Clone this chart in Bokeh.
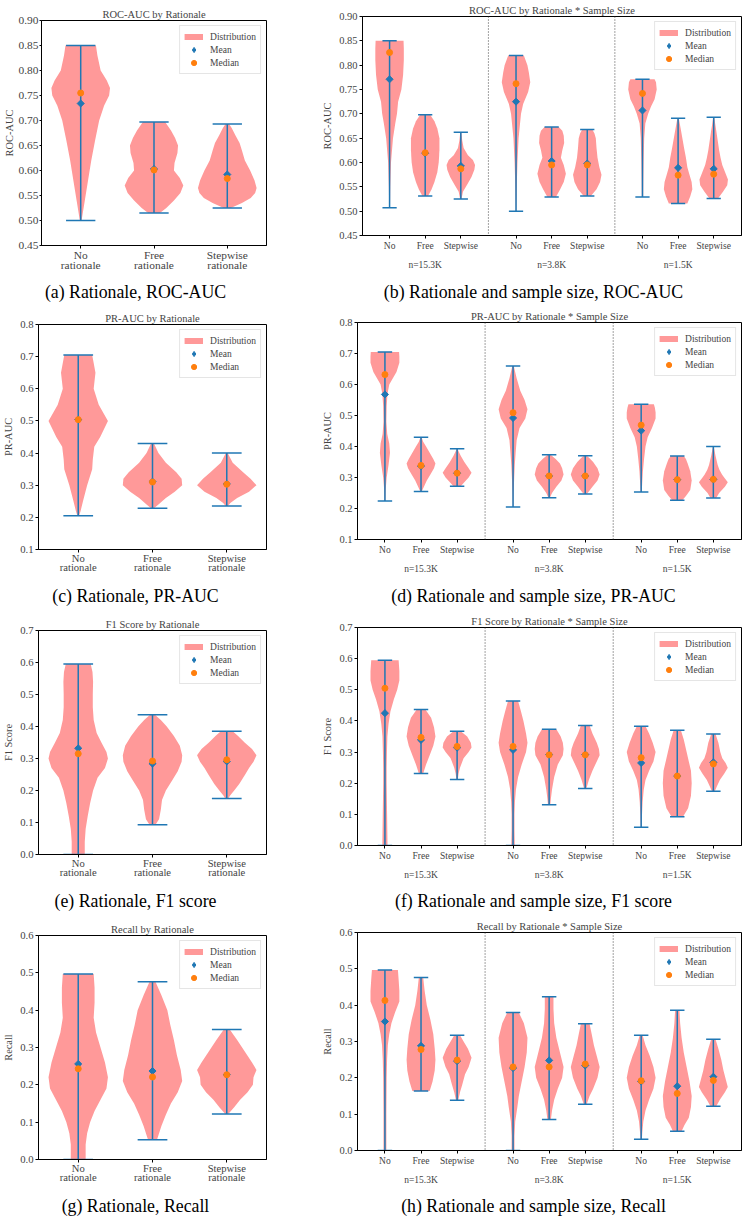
import numpy as np
from bokeh.plotting import figure
from bokeh.layouts import column, row
from bokeh.models import (FixedTicker, PrintfTickFormatter, Range1d, Legend, LegendItem,
                          Span, LinearAxis, Div)
from bokeh.embed import file_html
from bokeh.resources import INLINE

# ---------------------------------------------------------------- data
LEFT_CATS = ["No\nrationale", "Free\nrationale", "Stepwise\nrationale"]
RIGHT_CATS = ["No", "Free", "Stepwise"]
SAMPLE_SIZES = ["n=15.3K", "n=3.8K", "n=1.5K"]

# Violin profiles: (metric value, relative half-width); first/last value = min/max.
# ROC-AUC by rationale
ROC_SHAPES = [
    [(0.500, 0.03), (0.54, 0.14), (0.58, 0.25), (0.62, 0.36), (0.66, 0.49), (0.70, 0.63),
     (0.73, 0.8), (0.75, 0.97), (0.765, 1.0), (0.78, 0.89), (0.80, 0.68), (0.83, 0.57), (0.85, 0.52)],
    [(0.515, 0.2), (0.525, 0.42), (0.54, 0.68), (0.555, 0.9), (0.57, 1.0), (0.585, 0.88),
     (0.60, 0.68), (0.615, 0.7), (0.635, 0.8), (0.65, 0.82), (0.665, 0.72), (0.68, 0.58), (0.697, 0.38)],
    [(0.525, 0.12), (0.535, 0.5), (0.545, 0.8), (0.555, 0.95), (0.565, 1.0), (0.58, 0.93),
     (0.60, 0.78), (0.62, 0.6), (0.64, 0.5), (0.655, 0.42), (0.67, 0.28), (0.685, 0.15), (0.693, 0.06)],
]
ROC_MEANS = [0.734, 0.603, 0.592]
ROC_MEDIANS = [0.755, 0.601, 0.584]

# ROC-AUC by rationale x sample size
ROC_N_SHAPES = [
    [(0.507, 0.03), (0.55, 0.05), (0.60, 0.1), (0.65, 0.24), (0.68, 0.4), (0.70, 0.52),
     (0.725, 0.6), (0.75, 0.83), (0.78, 0.95), (0.81, 1.0), (0.835, 1.0), (0.85, 0.98)],
    [(0.531, 0.2), (0.545, 0.45), (0.56, 0.65), (0.58, 0.85), (0.60, 0.95), (0.625, 1.0),
     (0.65, 1.0), (0.67, 0.85), (0.685, 0.65), (0.698, 0.35)],
    [(0.525, 0.05), (0.54, 0.15), (0.555, 0.45), (0.57, 0.75), (0.585, 0.95), (0.595, 1.0),
     (0.605, 0.85), (0.615, 0.5), (0.63, 0.2), (0.645, 0.1), (0.662, 0.04)],
    [(0.500, 0.02), (0.55, 0.05), (0.60, 0.1), (0.65, 0.18), (0.70, 0.35), (0.72, 0.5),
     (0.745, 0.85), (0.765, 1.0), (0.785, 0.9), (0.80, 0.8), (0.82, 0.55)],
    [(0.529, 0.3), (0.545, 0.6), (0.56, 0.85), (0.577, 1.0), (0.595, 0.85), (0.61, 0.65),
     (0.625, 0.75), (0.64, 0.88), (0.655, 0.85), (0.665, 0.75), (0.673, 0.5)],
    [(0.531, 0.25), (0.545, 0.65), (0.56, 0.9), (0.575, 1.0), (0.59, 0.85), (0.61, 0.72),
     (0.63, 0.65), (0.65, 0.6), (0.66, 0.5), (0.668, 0.35)],
    [(0.529, 0.05), (0.56, 0.06), (0.60, 0.08), (0.65, 0.12), (0.68, 0.2), (0.70, 0.4),
     (0.715, 0.6), (0.73, 0.85), (0.75, 1.0), (0.765, 0.95), (0.771, 0.85)],
    [(0.516, 0.65), (0.53, 0.85), (0.545, 1.0), (0.56, 0.95), (0.575, 0.8), (0.59, 0.65),
     (0.61, 0.55), (0.63, 0.42), (0.65, 0.3), (0.67, 0.18), (0.691, 0.05)],
    [(0.526, 0.3), (0.54, 0.65), (0.553, 0.95), (0.565, 1.0), (0.58, 0.8), (0.595, 0.6),
     (0.61, 0.48), (0.625, 0.38), (0.645, 0.28), (0.665, 0.18), (0.68, 0.1), (0.693, 0.04)],
]
ROC_N_MEANS = [0.771, 0.619, 0.593, 0.725, 0.603, 0.598, 0.707, 0.589, 0.587]
ROC_N_MEDIANS = [0.826, 0.620, 0.587, 0.762, 0.595, 0.595, 0.742, 0.574, 0.576]

# PR-AUC by rationale
PR_SHAPES = [
    [(0.205, 0.03), (0.22, 0.08), (0.25, 0.16), (0.30, 0.3), (0.35, 0.47), (0.38, 0.49),
     (0.42, 0.54), (0.45, 0.74), (0.50, 1.0), (0.55, 0.69), (0.60, 0.52), (0.65, 0.58),
     (0.68, 0.52), (0.705, 0.47)],
    [(0.228, 0.05), (0.24, 0.2), (0.26, 0.45), (0.28, 0.75), (0.30, 1.0), (0.32, 0.98),
     (0.34, 0.8), (0.37, 0.45), (0.40, 0.2), (0.43, 0.05)],
    [(0.235, 0.04), (0.245, 0.12), (0.26, 0.35), (0.28, 0.75), (0.30, 1.0), (0.32, 0.8),
     (0.34, 0.55), (0.37, 0.2), (0.40, 0.03)],
]
PR_MEANS = [0.504, 0.311, 0.304]
PR_MEDIANS = [0.504, 0.310, 0.303]

# PR-AUC by rationale x sample size
PR_N_SHAPES = [
    [(0.224, 0.03), (0.26, 0.05), (0.30, 0.12), (0.34, 0.25), (0.38, 0.35), (0.41, 0.3),
     (0.44, 0.16), (0.48, 0.1), (0.53, 0.12), (0.57, 0.18), (0.60, 0.3), (0.62, 0.55),
     (0.64, 0.8), (0.67, 1.0), (0.69, 1.0), (0.705, 0.98)],
    [(0.255, 0.05), (0.27, 0.2), (0.29, 0.4), (0.31, 0.65), (0.33, 0.9), (0.345, 1.0),
     (0.36, 0.85), (0.38, 0.6), (0.40, 0.35), (0.415, 0.15), (0.43, 0.04)],
    [(0.272, 0.25), (0.285, 0.5), (0.30, 0.8), (0.315, 1.0), (0.33, 0.8), (0.35, 0.5),
     (0.37, 0.25), (0.385, 0.1), (0.393, 0.03)],
    [(0.205, 0.02), (0.25, 0.04), (0.30, 0.08), (0.34, 0.12), (0.38, 0.18), (0.42, 0.25),
     (0.46, 0.45), (0.49, 0.85), (0.52, 1.0), (0.55, 0.8), (0.58, 0.5), (0.62, 0.25), (0.66, 0.05)],
    [(0.235, 0.05), (0.25, 0.2), (0.27, 0.5), (0.29, 0.85), (0.31, 1.0), (0.33, 0.9),
     (0.345, 0.75), (0.36, 0.45), (0.373, 0.1)],
    [(0.247, 0.1), (0.255, 0.25), (0.27, 0.5), (0.29, 0.85), (0.31, 1.0), (0.33, 0.85),
     (0.35, 0.55), (0.362, 0.3), (0.370, 0.1)],
    [(0.253, 0.04), (0.28, 0.07), (0.32, 0.12), (0.36, 0.2), (0.40, 0.3), (0.43, 0.45),
     (0.46, 0.75), (0.49, 1.0), (0.51, 1.0), (0.525, 0.95), (0.536, 0.88)],
    [(0.227, 0.35), (0.24, 0.6), (0.26, 0.9), (0.29, 1.0), (0.32, 0.9), (0.345, 0.72),
     (0.36, 0.6), (0.369, 0.45)],
    [(0.234, 0.2), (0.25, 0.4), (0.27, 0.8), (0.285, 1.0), (0.30, 0.75), (0.31, 0.6),
     (0.325, 0.42), (0.34, 0.3), (0.37, 0.15), (0.40, 0.03)],
]
PR_N_MEANS = [0.568, 0.337, 0.314, 0.492, 0.305, 0.305, 0.451, 0.293, 0.294]
PR_N_MEDIANS = [0.632, 0.339, 0.314, 0.509, 0.305, 0.305, 0.469, 0.293, 0.294]

# F1 score by rationale
F1_SHAPES = [
    [(0.0, 0.22), (0.04, 0.22), (0.08, 0.25), (0.12, 0.32), (0.16, 0.4), (0.20, 0.5),
     (0.24, 0.65), (0.27, 0.9), (0.30, 1.0), (0.32, 0.95), (0.35, 0.78), (0.38, 0.62),
     (0.42, 0.52), (0.46, 0.49), (0.50, 0.49), (0.54, 0.5), (0.57, 0.48), (0.595, 0.42)],
    [(0.093, 0.1), (0.11, 0.22), (0.14, 0.28), (0.17, 0.32), (0.20, 0.45), (0.23, 0.65),
     (0.26, 0.85), (0.29, 0.98), (0.31, 1.0), (0.34, 0.92), (0.37, 0.72), (0.40, 0.48),
     (0.42, 0.28), (0.437, 0.08)],
    [(0.175, 0.05), (0.185, 0.12), (0.20, 0.25), (0.22, 0.42), (0.25, 0.62), (0.27, 0.75),
     (0.29, 0.9), (0.31, 1.0), (0.33, 0.85), (0.35, 0.6), (0.37, 0.38), (0.385, 0.2)],
]
F1_MEANS = [0.332, 0.284, 0.291]
F1_MEDIANS = [0.315, 0.292, 0.296]

# F1 score by rationale x sample size
F1_N_SHAPES = [
    [(0.0, 0.18), (0.1, 0.15), (0.2, 0.12), (0.25, 0.12), (0.30, 0.14), (0.35, 0.17),
     (0.39, 0.25), (0.43, 0.38), (0.47, 0.62), (0.50, 0.85), (0.53, 1.0), (0.56, 1.0), (0.595, 0.95)],
    [(0.231, 0.15), (0.26, 0.35), (0.29, 0.6), (0.32, 0.85), (0.35, 1.0), (0.38, 0.9),
     (0.41, 0.7), (0.437, 0.3)],
    [(0.212, 0.05), (0.23, 0.1), (0.25, 0.2), (0.28, 0.45), (0.30, 0.8), (0.315, 1.0),
     (0.33, 0.95), (0.35, 0.7), (0.367, 0.25)],
    [(0.0, 0.12), (0.05, 0.1), (0.10, 0.1), (0.14, 0.13), (0.18, 0.2), (0.22, 0.35),
     (0.26, 0.6), (0.30, 0.9), (0.33, 1.0), (0.36, 0.9), (0.40, 0.72), (0.43, 0.55), (0.464, 0.35)],
    [(0.131, 0.08), (0.15, 0.12), (0.18, 0.2), (0.22, 0.35), (0.26, 0.6), (0.29, 0.95),
     (0.31, 1.0), (0.33, 0.95), (0.35, 0.8), (0.373, 0.5)],
    [(0.183, 0.08), (0.21, 0.25), (0.24, 0.5), (0.27, 0.8), (0.29, 1.0), (0.31, 0.95),
     (0.33, 0.8), (0.36, 0.5), (0.385, 0.3)],
    [(0.059, 0.03), (0.10, 0.06), (0.14, 0.1), (0.18, 0.18), (0.21, 0.3), (0.24, 0.55),
     (0.27, 0.85), (0.30, 1.0), (0.33, 0.8), (0.36, 0.55), (0.383, 0.3)],
    [(0.092, 0.4), (0.10, 0.5), (0.12, 0.75), (0.16, 0.95), (0.20, 1.0), (0.24, 0.95),
     (0.27, 0.8), (0.30, 0.65), (0.34, 0.45), (0.370, 0.25)],
    [(0.174, 0.1), (0.19, 0.25), (0.21, 0.45), (0.23, 0.75), (0.25, 1.0), (0.265, 0.85),
     (0.28, 0.62), (0.30, 0.48), (0.33, 0.35), (0.358, 0.15)],
]
F1_N_MEANS = [0.425, 0.339, 0.314, 0.307, 0.292, 0.292, 0.265, 0.223, 0.267]
F1_N_MEDIANS = [0.505, 0.347, 0.318, 0.318, 0.291, 0.291, 0.282, 0.223, 0.262]

# Recall by rationale
REC_SHAPES = [
    [(0.0, 0.25), (0.04, 0.25), (0.07, 0.3), (0.10, 0.4), (0.13, 0.55), (0.16, 0.75),
     (0.19, 0.95), (0.22, 1.0), (0.26, 0.9), (0.30, 0.75), (0.34, 0.6), (0.38, 0.52),
     (0.42, 0.55), (0.46, 0.55), (0.497, 0.52)],
    [(0.053, 0.15), (0.065, 0.2), (0.09, 0.3), (0.12, 0.45), (0.15, 0.62), (0.18, 0.85),
     (0.21, 1.0), (0.24, 0.95), (0.28, 0.82), (0.32, 0.72), (0.36, 0.6), (0.40, 0.5),
     (0.44, 0.3), (0.476, 0.1)],
    [(0.122, 0.05), (0.14, 0.25), (0.16, 0.45), (0.18, 0.7), (0.20, 0.88), (0.22, 0.9),
     (0.24, 1.0), (0.26, 0.85), (0.29, 0.6), (0.32, 0.35), (0.348, 0.1)],
]
REC_MEANS = [0.256, 0.237, 0.227]
REC_MEDIANS = [0.243, 0.221, 0.227]

# Recall by rationale x sample size
REC_N_SHAPES = [
    [(0.0, 0.1), (0.10, 0.1), (0.20, 0.12), (0.25, 0.15), (0.29, 0.2), (0.32, 0.3),
     (0.35, 0.45), (0.38, 0.7), (0.41, 1.0), (0.44, 1.0), (0.47, 0.95), (0.497, 0.9)],
    [(0.164, 0.6), (0.19, 0.8), (0.22, 0.95), (0.25, 1.0), (0.28, 0.95), (0.32, 0.85),
     (0.36, 0.65), (0.40, 0.4), (0.44, 0.25), (0.476, 0.15)],
    [(0.138, 0.08), (0.16, 0.2), (0.18, 0.35), (0.21, 0.55), (0.23, 0.8), (0.255, 1.0),
     (0.28, 0.75), (0.30, 0.45), (0.317, 0.2)],
    [(0.0, 0.1), (0.04, 0.1), (0.08, 0.15), (0.12, 0.3), (0.15, 0.4), (0.19, 0.6),
     (0.23, 0.8), (0.27, 0.95), (0.31, 1.0), (0.35, 0.75), (0.380, 0.4)],
    [(0.085, 0.12), (0.11, 0.2), (0.14, 0.35), (0.17, 0.6), (0.20, 0.9), (0.23, 1.0),
     (0.27, 0.75), (0.31, 0.5), (0.35, 0.35), (0.39, 0.3), (0.423, 0.3)],
    [(0.127, 0.1), (0.15, 0.3), (0.17, 0.55), (0.20, 0.85), (0.23, 1.0), (0.26, 0.8),
     (0.29, 0.6), (0.32, 0.45), (0.349, 0.3)],
    [(0.031, 0.05), (0.05, 0.08), (0.08, 0.15), (0.11, 0.3), (0.14, 0.55), (0.17, 0.85),
     (0.20, 1.0), (0.23, 0.85), (0.26, 0.6), (0.29, 0.3), (0.317, 0.1)],
    [(0.053, 0.3), (0.07, 0.5), (0.09, 0.8), (0.12, 0.95), (0.15, 1.0), (0.19, 0.85),
     (0.23, 0.65), (0.27, 0.45), (0.31, 0.3), (0.35, 0.2), (0.386, 0.15)],
    [(0.122, 0.2), (0.14, 0.45), (0.16, 0.8), (0.175, 1.0), (0.19, 0.9), (0.22, 0.7),
     (0.25, 0.55), (0.28, 0.35), (0.306, 0.15)],
]
REC_N_MEANS = [0.355, 0.288, 0.246, 0.227, 0.248, 0.234, 0.190, 0.177, 0.203]
REC_N_MEDIANS = [0.413, 0.278, 0.249, 0.230, 0.230, 0.238, 0.192, 0.157, 0.193]

# ---------------------------------------------------------------- style
FONT = "Liberation Serif"
VIOLIN = "#ff9999"
BLUE = "#1f77b4"
ORANGE = "#ff7f0e"
HALF = 0.4      # violin half-width at the densest point (x units)
CAP = 0.2       # whisker cap half-length (x units)
GROUP_STEP = 3.55

LEFT_POS = [1, 2, 3]
RIGHT_POS = [round(g * GROUP_STEP + i, 2) for g in range(3) for i in range(3)]
GROUP_POS = [round(g * GROUP_STEP + 1, 2) for g in range(3)]
DIVIDERS = [round(2 + (GROUP_STEP - 2) / 2 + g * GROUP_STEP, 3) for g in range(2)]


def violin_outline(center, shape):
    vals = [v for v, _ in shape]
    widths = [w * HALF for _, w in shape]
    xs = [center + w for w in widths] + [center - w for w in widths[::-1]]
    ys = vals + vals[::-1]
    return xs, ys


def panel(*, wide, shapes, means, medians, title, ylabel, ylim, yticks, yfmt,
          width, height, borders, tick_px, cat_px, tight_y=False):
    left, right, top, bottom = borders
    positions = RIGHT_POS if wide else LEFT_POS
    labels = RIGHT_CATS * 3 if wide else LEFT_CATS
    xlim = (-0.76, 9.88) if wide else (0.465, 3.535)

    p = figure(width=width, height=height, x_range=Range1d(*xlim), y_range=Range1d(*ylim),
               output_backend="svg", toolbar_location=None, tools="",
               min_border_left=left, min_border_right=right,
               min_border_top=top, min_border_bottom=bottom)
    p.background_fill_color = "white"
    p.border_fill_color = "white"
    p.grid.visible = False
    p.outline_line_color = "black"
    p.outline_line_width = 1
    p.outline_line_alpha = 1

    p.title.text = title
    p.title.align = "center"
    p.title.text_font = FONT
    p.title.text_font_size = "10.5px"
    p.title.text_font_style = "normal"
    p.title.standoff = 2

    # violins
    outlines = [violin_outline(c, s) for c, s in zip(positions, shapes)]
    p.patches(xs=[o[0] for o in outlines], ys=[o[1] for o in outlines],
              fill_color=VIOLIN, fill_alpha=1, line_color=None)

    mins = [s[0][0] for s in shapes]
    maxs = [s[-1][0] for s in shapes]
    p.segment(x0=positions, y0=mins, x1=positions, y1=maxs, line_color=BLUE, line_width=1.5)
    lo = [c - CAP for c in positions]
    hi = [c + CAP for c in positions]
    p.segment(x0=lo, y0=mins, x1=hi, y1=mins, line_color=BLUE, line_width=1.5)
    p.segment(x0=lo, y0=maxs, x1=hi, y1=maxs, line_color=BLUE, line_width=1.5)

    p.scatter(x=positions, y=means, marker="square", angle=np.pi / 4, size=5,
              fill_color=BLUE, line_color=BLUE)
    med_r = p.scatter(x=positions, y=medians, marker="circle", size=6,
                      fill_color=ORANGE, line_color=ORANGE)

    if wide:
        for d in DIVIDERS:
            p.add_layout(Span(location=d, dimension="height", line_color="#444444",
                              line_dash="1 2", line_width=1))

    # legend keys (single off-range point each, only their legend glyphs show)
    dist_key = p.line(x=[np.nan], y=[np.nan], line_color=VIOLIN, line_width=6)
    mean_key = p.scatter(x=[np.nan], y=[np.nan], marker="diamond",
                         fill_color=BLUE, line_color=BLUE)
    legend = Legend(items=[LegendItem(label="Distribution", renderers=[dist_key]),
                           LegendItem(label="Mean", renderers=[mean_key]),
                           LegendItem(label="Median", renderers=[med_r])],
                    location="top_right")
    legend.label_text_font = FONT
    legend.label_text_font_size = "9.5px"
    legend.glyph_width = 19
    legend.glyph_height = 13
    legend.label_height = 13
    legend.label_standoff = 7
    legend.padding = 4
    legend.spacing = 0
    legend.margin = 5
    legend.border_line_color = "#cccccc"
    legend.border_line_width = 1
    legend.background_fill_alpha = 0.85
    p.add_layout(legend)

    # axes
    xa = p.xaxis[0]
    xa.ticker = FixedTicker(ticks=positions)
    xa.major_label_overrides = {c: lab for c, lab in zip(positions, labels)}
    xa.major_label_text_font = FONT
    xa.major_label_text_font_size = f"{cat_px}px"
    xa.major_label_text_line_height = 0.85
    xa.major_tick_in = 0
    xa.major_tick_out = 3
    xa.major_label_standoff = 2 if wide else 0
    xa.minor_tick_line_color = None
    xa.axis_line_color = "black"
    xa.major_tick_line_color = "black"

    ya = p.yaxis[0]
    ya.ticker = FixedTicker(ticks=yticks)
    ya.formatter = PrintfTickFormatter(format=yfmt)
    ya.major_label_text_font = FONT
    ya.major_label_text_font_size = f"{tick_px}px"
    ya.major_tick_in = 0
    ya.major_tick_out = 2 if tight_y else 3
    ya.major_label_standoff = 1 if tight_y else 2
    ya.minor_tick_line_color = None
    ya.axis_label = ylabel
    ya.axis_label_text_font = FONT
    ya.axis_label_text_font_size = "10.4px"
    ya.axis_label_text_font_style = "normal"
    ya.axis_label_standoff = 1 if tight_y else 3

    if wide:
        ga = LinearAxis(ticker=FixedTicker(ticks=GROUP_POS),
                        major_label_overrides={c: lab for c, lab in zip(GROUP_POS, SAMPLE_SIZES)})
        ga.axis_line_color = None
        ga.major_tick_line_color = None
        ga.minor_tick_line_color = None
        ga.major_tick_out = 0
        ga.major_label_standoff = 6
        ga.major_label_text_font = FONT
        ga.major_label_text_font_size = f"{cat_px}px"
        p.add_layout(ga, "below")
    # own row, so that neighbouring plots keep their individual borders
    return row(p, spacing=0)


LW, RW = 290, 457


def caption(text, wide, height, pad_top):
    width = RW if wide else LW
    # centre of the caption line: x=135.5 in the left column, x=243.5 in the right one
    inner_w, pad_l = (427, 30) if wide else (271, 0)
    html = (f'<div style="display:block;width:{inner_w}px;margin-left:{pad_l}px;'
            f'padding-top:{pad_top}px;text-align:center;white-space:nowrap;'
            f'font-family:\'{FONT}\',serif;font-size:17.8px;line-height:20px;color:black;">'
            f'{text}</div>')
    return Div(text=html, width=width, height=height, margin=0)


FIG_H = [275, 276, 276, 276]
CAP_H = [29, 29, 29, 32]

pa = panel(wide=False, shapes=ROC_SHAPES, means=ROC_MEANS, medians=ROC_MEDIANS,
           title="ROC-AUC by Rationale", ylabel="ROC-AUC", ylim=(0.45, 0.90),
           yticks=[0.45, 0.50, 0.55, 0.60, 0.65, 0.70, 0.75, 0.80, 0.85, 0.90], yfmt="%.2f",
           width=LW, height=FIG_H[0], borders=(40, 24, 20, 30), tick_px=11.4, cat_px=11.4,
           tight_y=True)
pb = panel(wide=True, shapes=ROC_N_SHAPES, means=ROC_N_MEANS, medians=ROC_N_MEDIANS,
           title="ROC-AUC by Rationale * Sample Size", ylabel="ROC-AUC", ylim=(0.45, 0.90),
           yticks=[0.45, 0.50, 0.55, 0.60, 0.65, 0.70, 0.75, 0.80, 0.85, 0.90], yfmt="%.2f",
           width=RW, height=FIG_H[0], borders=(72, 6, 16, 40), tick_px=10.5, cat_px=9.5)
pc = panel(wide=False, shapes=PR_SHAPES, means=PR_MEANS, medians=PR_MEDIANS,
           title="PR-AUC by Rationale", ylabel="PR-AUC", ylim=(0.1, 0.8),
           yticks=[0.1, 0.2, 0.3, 0.4, 0.5, 0.6, 0.7, 0.8], yfmt="%.1f",
           width=LW, height=FIG_H[1], borders=(36, 24, 20, 31), tick_px=10.7, cat_px=10.6)
pd_ = panel(wide=True, shapes=PR_N_SHAPES, means=PR_N_MEANS, medians=PR_N_MEDIANS,
            title="PR-AUC by Rationale * Sample Size", ylabel="PR-AUC", ylim=(0.1, 0.8),
            yticks=[0.1, 0.2, 0.3, 0.4, 0.5, 0.6, 0.7, 0.8], yfmt="%.1f",
            width=RW, height=FIG_H[1], borders=(67, 6, 18, 41), tick_px=10.5, cat_px=9.5)
pe = panel(wide=False, shapes=F1_SHAPES, means=F1_MEANS, medians=F1_MEDIANS,
           title="F1 Score by Rationale", ylabel="F1 Score", ylim=(0.0, 0.7),
           yticks=[0.0, 0.1, 0.2, 0.3, 0.4, 0.5, 0.6, 0.7], yfmt="%.1f",
           width=LW, height=FIG_H[2], borders=(36, 24, 21, 31), tick_px=10.7, cat_px=10.6)
pf = panel(wide=True, shapes=F1_N_SHAPES, means=F1_N_MEANS, medians=F1_N_MEDIANS,
           title="F1 Score by Rationale * Sample Size", ylabel="F1 Score", ylim=(0.0, 0.7),
           yticks=[0.0, 0.1, 0.2, 0.3, 0.4, 0.5, 0.6, 0.7], yfmt="%.1f",
           width=RW, height=FIG_H[2], borders=(67, 6, 18, 40), tick_px=10.5, cat_px=9.5)
pg = panel(wide=False, shapes=REC_SHAPES, means=REC_MEANS, medians=REC_MEDIANS,
           title="Recall by Rationale", ylabel="Recall", ylim=(0.0, 0.6),
           yticks=[0.0, 0.1, 0.2, 0.3, 0.4, 0.5, 0.6], yfmt="%.1f",
           width=LW, height=FIG_H[3], borders=(36, 24, 21, 31), tick_px=10.7, cat_px=10.6)
ph = panel(wide=True, shapes=REC_N_SHAPES, means=REC_N_MEANS, medians=REC_N_MEDIANS,
           title="Recall by Rationale * Sample Size", ylabel="Recall", ylim=(0.0, 0.6),
           yticks=[0.0, 0.1, 0.2, 0.3, 0.4, 0.5, 0.6], yfmt="%.1f",
           width=RW, height=FIG_H[3], borders=(67, 6, 18, 40), tick_px=10.5, cat_px=9.5)

left_col = column(
    pa, caption("(a) Rationale, ROC-AUC", False, CAP_H[0], 7),
    pc, caption("(c) Rationale, PR-AUC", False, CAP_H[1], 6),
    pe, caption("(e) Rationale, F1 score", False, CAP_H[2], 6),
    pg, caption("(g) Rationale, Recall", False, CAP_H[3], 6),
    spacing=0)
right_col = column(
    pb, caption("(b) Rationale and sample size, ROC-AUC", True, CAP_H[0], 7),
    pd_, caption("(d) Rationale and sample size, PR-AUC", True, CAP_H[1], 6),
    pf, caption("(f) Rationale and sample size, F1 score", True, CAP_H[2], 6),
    ph, caption("(h) Rationale and sample size, Recall", True, CAP_H[3], 6),
    spacing=0)
layout = row(left_col, right_col, spacing=0)

with open("out.html", "w") as fh:
    fh.write(file_html(layout, INLINE))
